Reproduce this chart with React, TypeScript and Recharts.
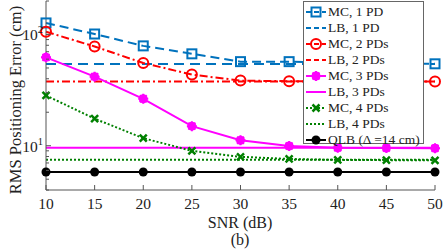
import React from 'react';
import { LineChart, Line, XAxis, YAxis, Label } from 'recharts';

// SNR in dB
const snr = [10, 15, 20, 25, 30, 35, 40, 45, 50];

// RMS positioning error (cm)
const mc1 = [127, 101, 79, 67, 57, 57, 56, 55, 54.5];
const lb1 = [54.4, 54.4, 54.4, 54.4, 54.4, 54.4, 54.4, 54.4, 54.4];
const mc2 = [106, 78, 55.4, 43.6, 38.5, 38, 38, 37.9, 37.8];
const lb2 = [37.7, 37.7, 37.7, 37.7, 37.7, 37.7, 37.7, 37.7, 37.7];
const mc3 = [62.3, 41.8, 26.4, 15.0, 11.2, 9.95, 9.6, 9.55, 9.5];
const lb3 = [9.6, 9.6, 9.6, 9.6, 9.6, 9.6, 9.6, 9.6, 9.6];
const mc4 = [28.3, 17.5, 11.7, 9.0, 7.95, 7.6, 7.45, 7.42, 7.4];
const lb4 = [7.5, 7.5, 7.5, 7.5, 7.5, 7.5, 7.5, 7.5, 7.5];
const qlb = [5.8, 5.8, 5.8, 5.8, 5.8, 5.8, 5.8, 5.8, 5.8];

const xTicks = [10, 15, 20, 25, 30, 35, 40, 45, 50];
const yTicks = [4, 5, 6, 7, 8, 9, 10, 20, 30, 40, 50, 60, 70, 80, 90, 100, 200];
const yMajor = [10, 100];

const data = snr.map((s, i) => ({
  snr: s,
  mc1: mc1[i],
  lb1: lb1[i],
  mc2: mc2[i],
  lb2: lb2[i],
  mc3: mc3[i],
  lb3: lb3[i],
  mc4: mc4[i],
  lb4: lb4[i],
  qlb: qlb[i],
}));

const blue = '#0072BD';
const red = '#FF0000';
const magenta = '#FF00FF';
const green = '#008000';
const axisColor = '#555';
const font = '"Liberation Serif", "Times New Roman", serif';

const series = [
  { key: 'mc1', name: 'MC, 1 PD', color: blue, dash: '9 5', marker: 'square' },
  { key: 'lb1', name: 'LB, 1 PD', color: blue, dash: '10 6', marker: 'none' },
  { key: 'mc2', name: 'MC, 2 PDs', color: red, dash: '8 3 2 3', marker: 'circle' },
  { key: 'lb2', name: 'LB, 2 PDs', color: red, dash: '8 3 2 3', marker: 'none' },
  { key: 'mc3', name: 'MC, 3 PDs', color: magenta, dash: undefined, marker: 'star' },
  { key: 'lb3', name: 'LB, 3 PDs', color: magenta, dash: undefined, marker: 'none' },
  { key: 'mc4', name: 'MC, 4 PDs', color: green, dash: '2 2', marker: 'cross' },
  { key: 'lb4', name: 'LB, 4 PDs', color: green, dash: '2 2', marker: 'none' },
  { key: 'qlb', name: 'QLB (\u0394 =14 cm)', color: '#000', dash: undefined, marker: 'dot' },
];

const Marker = ({ type, cx, cy, color }: { type: string; cx: number; cy: number; color: string }) => {
  if (type === 'square')
    return <rect x={cx - 4.5} y={cy - 4.5} width={9} height={9} fill="none" stroke={color} strokeWidth={2} />;
  if (type === 'circle') return <circle cx={cx} cy={cy} r={5} fill="none" stroke={color} strokeWidth={2} />;
  if (type === 'star')
    return (
      <g stroke={color} strokeWidth={2}>
        <circle cx={cx} cy={cy} r={3.5} fill={color} />
        <line x1={cx - 5} x2={cx + 5} y1={cy} y2={cy} />
        <line x1={cx} x2={cx} y1={cy - 5} y2={cy + 5} />
        <line x1={cx - 3.5} x2={cx + 3.5} y1={cy - 3.5} y2={cy + 3.5} />
        <line x1={cx - 3.5} x2={cx + 3.5} y1={cy + 3.5} y2={cy - 3.5} />
      </g>
    );
  if (type === 'cross')
    return (
      <g stroke={color} strokeWidth={2.5}>
        <line x1={cx - 3.5} x2={cx + 3.5} y1={cy - 3.5} y2={cy + 3.5} />
        <line x1={cx - 3.5} x2={cx + 3.5} y1={cy + 3.5} y2={cy - 3.5} />
      </g>
    );
  if (type === 'dot') return <circle cx={cx} cy={cy} r={4.5} fill={color} />;
  return null;
};

const BottomTick = (props: any) => {
  const { x, y, payload } = props;
  return (
    <g>
      <line x1={x} x2={x} y1={y} y2={y - 5} stroke={axisColor} />
      <text x={x} y={y + 19} textAnchor="middle" fontSize={15.5} fontFamily={font} fill="#222">
        {payload.value}
      </text>
    </g>
  );
};

const TopTick = (props: any) => {
  const { x, y } = props;
  return <line x1={x} x2={x} y1={y} y2={y + 5} stroke={axisColor} />;
};

const LeftTick = (props: any) => {
  const { x, y, payload } = props;
  const major = yMajor.includes(payload.value);
  return (
    <g>
      <line x1={x} x2={x + (major ? 5 : 3)} y1={y} y2={y} stroke={axisColor} />
      {major && (
        <text x={x - 3} y={y + 6} textAnchor="end" fontSize={15.5} fontFamily={font} fill="#222">
          10
          <tspan dy={-7} fontSize={10.5}>
            {payload.value === 10 ? '1' : '2'}
          </tspan>
        </text>
      )}
    </g>
  );
};

const RightTick = (props: any) => {
  const { x, y, payload } = props;
  const major = yMajor.includes(payload.value);
  return <line x1={x} x2={x - (major ? 5 : 3)} y1={y} y2={y} stroke={axisColor} />;
};

const YTitle = () => (
  <text
    x={21}
    y={100}
    transform="rotate(-90 21 100)"
    textAnchor="middle"
    fontSize={16.5}
    fontFamily={font}
    fill="#222"
  >
    RMS Positioning Error (cm)
  </text>
);

const XTitle = () => (
  <g fontFamily={font} fill="#222" fontSize={16} textAnchor="middle">
    <text x={240} y={228}>SNR (dB)</text>
    <text x={240} y={245}>(b)</text>
  </g>
);

const LegendBox = () => (
  <div
    style={{
      position: 'absolute',
      left: 303,
      top: 1,
      width: 121,
      height: 143,
      background: '#fff',
      border: '1px solid #666',
      fontFamily: font,
      fontSize: 13.5,
      color: '#222',
      paddingTop: 2,
      boxSizing: 'border-box',
    }}
  >
    {series.map((s) => (
      <div key={s.key} style={{ display: 'flex', alignItems: 'center', height: 16, whiteSpace: 'nowrap' }}>
        <svg width={24} height={16} style={{ flex: 'none' }}>
          <line x1={2} x2={22} y1={8} y2={8} stroke={s.color} strokeWidth={2} strokeDasharray={s.dash === '2 2' ? '2 2' : s.dash ? '5 3' : undefined} />
          <Marker type={s.marker} cx={12} cy={8} color={s.color} />
        </svg>
        <span>{s.name}</span>
      </div>
    ))}
  </div>
);

export default function App() {
  return (
    <div style={{ position: 'absolute', left: 0, top: 0, width: 443, height: 250, background: '#fff' }}>
      <LineChart width={443} height={250} data={data} margin={{ top: 1, right: 8, left: 0, bottom: 0 }}>
        <XAxis
          dataKey="snr"
          type="number"
          domain={[10, 50]}
          ticks={xTicks}
          height={60}
          tickSize={0}
          tickMargin={0}
          tick={<BottomTick />}
          stroke={axisColor}
          interval={0}
        >
          <Label content={<XTitle />} />
        </XAxis>
        <XAxis
          xAxisId="top"
          orientation="top"
          dataKey="snr"
          type="number"
          domain={[10, 50]}
          ticks={xTicks}
          height={0}
          tickSize={0}
          tickMargin={0}
          tick={<TopTick />}
          stroke={axisColor}
          interval={0}
        />
        <YAxis
          scale="log"
          domain={[4, 200]}
          allowDataOverflow
          ticks={yTicks}
          width={46}
          tickSize={0}
          tickMargin={0}
          tick={<LeftTick />}
          stroke={axisColor}
          interval={0}
        >
          <Label content={<YTitle />} />
        </YAxis>
        <YAxis
          yAxisId="right"
          orientation="right"
          scale="log"
          domain={[4, 200]}
          allowDataOverflow
          ticks={yTicks}
          width={0}
          tickSize={0}
          tickMargin={0}
          tick={<RightTick />}
          stroke={axisColor}
          interval={0}
        />
        {series.map((s) => (
          <Line
            key={s.key}
            dataKey={s.key}
            name={s.name}
            stroke={s.color}
            strokeWidth={2}
            strokeDasharray={s.dash}
            isAnimationActive={false}
            dot={
              s.marker === 'none'
                ? false
                : (p: any) => <Marker key={`${s.key}-${p.index}`} type={s.marker} cx={p.cx} cy={p.cy} color={s.color} />
            }
            activeDot={false}
          />
        ))}
      </LineChart>
      <LegendBox />
    </div>
  );
}
